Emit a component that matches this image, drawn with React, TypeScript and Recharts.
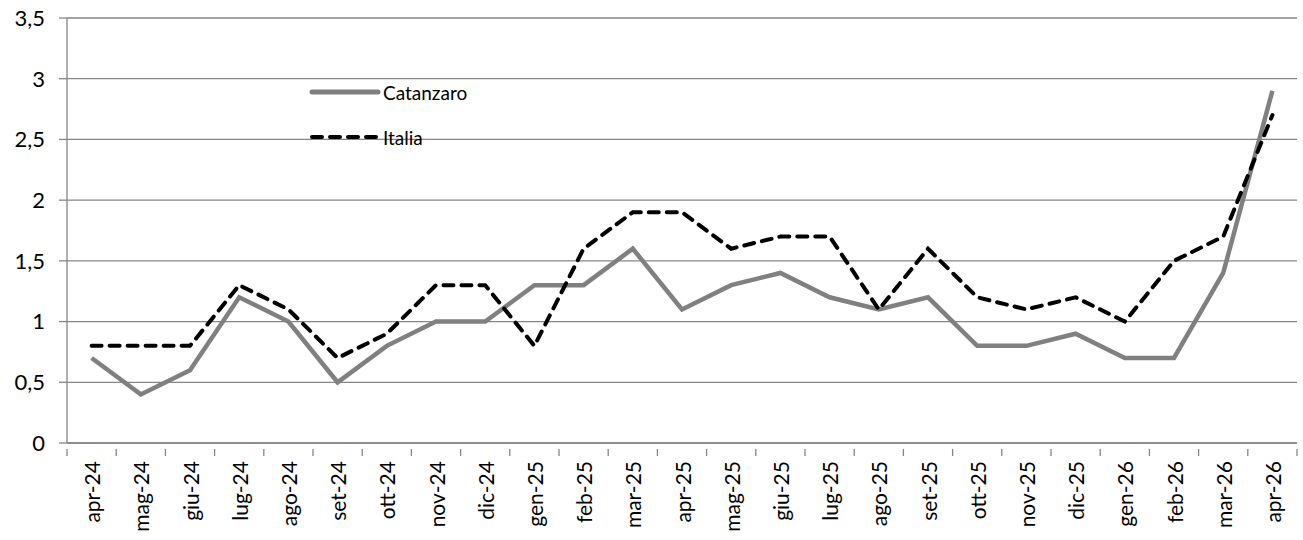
import { LineChart, Line, XAxis, YAxis, CartesianGrid, Legend } from 'recharts';

const months = [
  'apr-24', 'mag-24', 'giu-24', 'lug-24', 'ago-24', 'set-24', 'ott-24', 'nov-24', 'dic-24',
  'gen-25', 'feb-25', 'mar-25', 'apr-25', 'mag-25', 'giu-25', 'lug-25', 'ago-25', 'set-25',
  'ott-25', 'nov-25', 'dic-25', 'gen-26', 'feb-26', 'mar-26', 'apr-26'
];
const catanzaro = [0.7, 0.4, 0.6, 1.2, 1.0, 0.5, 0.8, 1.0, 1.0, 1.3, 1.3, 1.6, 1.1, 1.3, 1.4, 1.2, 1.1, 1.2, 0.8, 0.8, 0.9, 0.7, 0.7, 1.4, 2.9];
const italia = [0.8, 0.8, 0.8, 1.3, 1.1, 0.7, 0.9, 1.3, 1.3, 0.8, 1.6, 1.9, 1.9, 1.6, 1.7, 1.7, 1.1, 1.6, 1.2, 1.1, 1.2, 1.0, 1.5, 1.7, 2.7];
const yTicks = [0, 0.5, 1, 1.5, 2, 2.5, 3, 3.5];

const data = months.map((m, i) => ({ month: m, Catanzaro: catanzaro[i], Italia: italia[i] }));

const W = 1303;
const H = 540;
const LEFT = 67;
const RIGHT = 6;
const STEP = (W - LEFT - RIGHT) / months.length;
const AXIS = '#868686';
const FONT = 'Lato, "Open Sans", sans-serif';

function XTick(props: any) {
  const { x, y, payload, index } = props;
  const last = index === months.length - 1;
  return (
    <g>
      <line x1={x - STEP / 2} x2={x - STEP / 2} y1={y} y2={y + 7} stroke={AXIS} strokeWidth={1.3} />
      {last && <line x1={x + STEP / 2} x2={x + STEP / 2} y1={y} y2={y + 7} stroke={AXIS} strokeWidth={1.3} />}
      <text
        x={x}
        y={y + 12}
        transform={`rotate(-90 ${x} ${y + 12})`}
        textAnchor="end"
        dominantBaseline="central"
        fontSize={21}
        fontFamily={FONT}
        fill="#000"
      >
        {payload.value}
      </text>
    </g>
  );
}

function LegendBox() {
  const items = [
    { name: 'Catanzaro', color: '#808080', dash: undefined, w: 5 },
    { name: 'Italia', color: '#000', dash: '10 8', w: 4 },
  ];
  return (
    <svg width={220} height={70}>
      {items.map((it, i) => (
        <g key={it.name}>
          <line x1={4} x2={70} y1={10 + i * 45} y2={10 + i * 45} stroke={it.color} strokeWidth={it.w} strokeDasharray={it.dash} strokeLinecap="round" />
          <text x={75} y={10 + i * 45} dominantBaseline="central" fontSize={19} fontFamily={FONT} fill="#000">
            {it.name}
          </text>
        </g>
      ))}
    </svg>
  );
}

export default function App() {
  return (
    <div style={{ position: 'absolute', left: 0, top: 0, width: W, height: H, background: '#fff' }}>
      <LineChart width={W} height={H} data={data} margin={{ top: 18, right: RIGHT, bottom: 0, left: 0 }}>
        <CartesianGrid vertical={false} stroke={AXIS} strokeWidth={1.3} />
        <XAxis
          dataKey="month"
          interval={0}
          height={97}
          stroke={AXIS}
          strokeWidth={1.3}
          tickLine={false}
          tick={<XTick />}
          tickMargin={0}
          padding={{ left: STEP / 2, right: STEP / 2 }}
        />
        <YAxis
          domain={[0, 3.5]}
          ticks={yTicks}
          width={LEFT}
          stroke={AXIS}
          strokeWidth={1.3}
          tickSize={8}
          tickMargin={14}
          tickFormatter={(v: number) => String(v).replace('.', ',')}
          tick={{ fill: '#000', fontSize: 22, fontFamily: FONT }}
          interval={0}
        />
        <Legend
          layout="horizontal"
          verticalAlign="middle"
          align="center"
          content={<LegendBox />}
          wrapperStyle={{ position: 'absolute', left: 308, top: 82, width: 220, height: 70 }}
        />
        <Line
          dataKey="Catanzaro"
          stroke="#808080"
          strokeWidth={4.5}
          dot={false}
          isAnimationActive={false}
          type="linear"
        />
        <Line
          dataKey="Italia"
          stroke="#000"
          strokeWidth={4}
          strokeDasharray="10 8"
          strokeLinecap="round"
          dot={false}
          isAnimationActive={false}
          type="linear"
        />
      </LineChart>
    </div>
  );
}
